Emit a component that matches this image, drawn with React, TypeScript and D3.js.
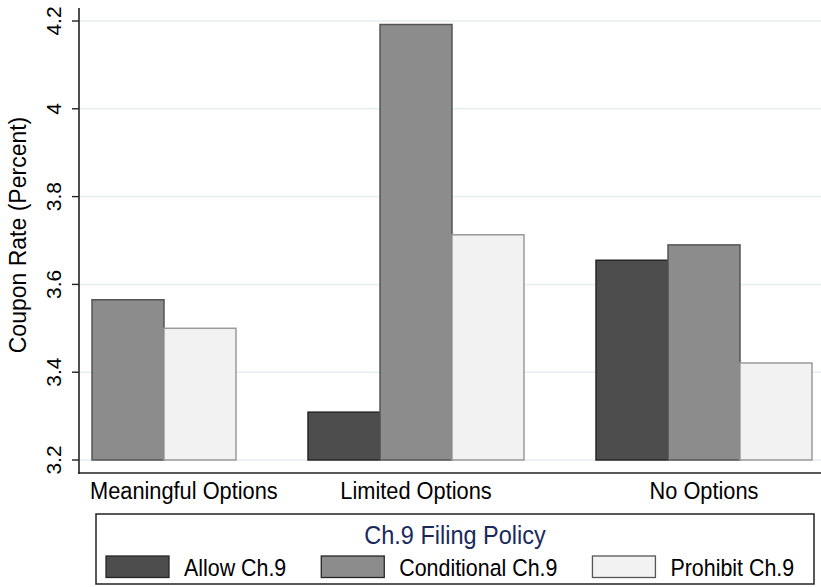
import React, { useEffect, useRef } from "react";
import * as d3 from "d3";

const groups = ["Meaningful Options", "Limited Options", "No Options"];
const seriesNames = ["Allow Ch.9", "Conditional Ch.9", "Prohibit Ch.9"];
const allowValues: (number | null)[] = [null, 3.309, 3.655];
const conditionalValues: (number | null)[] = [3.565, 4.192, 3.69];
const prohibitValues: (number | null)[] = [3.5, 3.713, 3.421];
const yTicks = [3.2, 3.4, 3.6, 3.8, 4.0, 4.2];
const yTitle = "Coupon Rate (Percent)";
const legendTitle = "Ch.9 Filing Policy";

const fills = ["#4d4d4d", "#8c8c8c", "#f2f2f2"];
const strokes = ["#262626", "#555555", "#9a9a9a"];

const W = 821;
const H = 587;
const FONT = "'Liberation Sans', Arial, sans-serif";
const STRETCH = 1.08;

export default function App() {
  const ref = useRef<SVGSVGElement>(null);

  useEffect(() => {
    const svg = d3.select(ref.current!);
    svg.selectAll("*").remove();

    const seriesValues = [allowValues, conditionalValues, prohibitValues];

    const y = d3.scaleLinear().domain([3.2, 4.2]).range([460, 21]);
    const xG = d3.scaleBand<string>().domain(groups).range([20, 812]).paddingInner(0.25).paddingOuter(0);
    const xS = d3.scaleBand<string>().domain(seriesNames).range([0, xG.bandwidth()]).padding(0);

    const axisX = 79;
    const axisBottom = 473;
    const plotTop = 8;

    // gridlines
    svg.append("g")
      .selectAll("line")
      .data(yTicks)
      .join("line")
      .attr("x1", axisX + 1)
      .attr("x2", W)
      .attr("y1", (d) => y(d))
      .attr("y2", (d) => y(d))
      .attr("stroke", "#e6eeef")
      .attr("stroke-width", 1.5);

    // bars
    const bars: { g: string; s: string; v: number; i: number }[] = [];
    groups.forEach((g, gi) => {
      seriesNames.forEach((s, si) => {
        const v = seriesValues[si][gi];
        if (v != null) bars.push({ g, s, v, i: si });
      });
    });
    svg.append("g")
      .selectAll("rect")
      .data(bars)
      .join("rect")
      .attr("x", (d) => (xG(d.g) as number) + (xS(d.s) as number))
      .attr("y", (d) => y(d.v))
      .attr("width", xS.bandwidth())
      .attr("height", (d) => y(3.2) - y(d.v))
      .attr("fill", (d) => fills[d.i])
      .attr("stroke", (d) => strokes[d.i])
      .attr("stroke-width", 1.5);

    // axes lines
    svg.append("line")
      .attr("x1", axisX).attr("x2", axisX)
      .attr("y1", plotTop).attr("y2", axisBottom + 1)
      .attr("stroke", "#222").attr("stroke-width", 1.6);
    svg.append("line")
      .attr("x1", axisX - 1).attr("x2", W)
      .attr("y1", axisBottom).attr("y2", axisBottom)
      .attr("stroke", "#222").attr("stroke-width", 1.6);

    // y ticks
    const yt = svg.append("g");
    yt.selectAll("line")
      .data(yTicks)
      .join("line")
      .attr("x1", axisX - 7).attr("x2", axisX)
      .attr("y1", (d) => y(d)).attr("y2", (d) => y(d))
      .attr("stroke", "#222").attr("stroke-width", 1.4);
    yt.selectAll("text")
      .data(yTicks)
      .join("text")
      .attr("transform", (d) => `translate(53.5,${y(d)}) rotate(-90)`)
      .attr("text-anchor", "middle")
      .attr("dominant-baseline", "central")
      .attr("font-family", FONT)
      .attr("font-size", 21)
      .attr("fill", "#000")
      .text((d) => d3.format("")(d));

    // y title
    svg.append("text")
      .attr("transform", `translate(17.5,235) rotate(-90)`)
      .attr("text-anchor", "middle")
      .attr("dominant-baseline", "central")
      .attr("font-family", FONT)
      .attr("font-size", 23)
      .attr("fill", "#000")
      .text(yTitle);

    // helper for horizontal stretched text
    const hText = (parent: any, x: number, yy: number, str: string, size: number, anchor: string, color: string) => {
      const t = parent.append("text")
        .attr("transform", `translate(${x},${yy}) scale(1,${STRETCH})`)
        .attr("text-anchor", anchor)
        .attr("font-family", FONT)
        .attr("font-size", size)
        .attr("fill", color)
        .text(str);
      return t;
    };

    // x group labels
    const xl = svg.append("g");
    groups.forEach((g) => {
      const t = hText(xl, 0, 499, g, 21.8, "middle", "#000");
      const w = (t.node() as SVGTextElement).getComputedTextLength();
      const c = (xG(g) as number) + xG.bandwidth() / 2;
      t.attr("transform", `translate(${Math.max(c, 90 + w / 2)},499) scale(1,${STRETCH})`);
    });

    // legend
    const lg = svg.append("g");
    const lx0 = 96, lx1 = 814, ly0 = 514, ly1 = 584;
    lg.append("rect")
      .attr("x", lx0).attr("y", ly0)
      .attr("width", lx1 - lx0).attr("height", ly1 - ly0)
      .attr("fill", "#fff").attr("stroke", "#222").attr("stroke-width", 1.5);
    hText(lg, (lx0 + lx1) / 2, 544, legendTitle, 23.5, "middle", "#1a2a5c");
    let cx = 106;
    seriesNames.forEach((s, i) => {
      lg.append("rect")
        .attr("x", cx).attr("y", 556)
        .attr("width", 63).attr("height", 21.5)
        .attr("fill", fills[i]).attr("stroke", strokes[i === 2 ? 1 : 0]).attr("stroke-width", 1.3);
      const t = hText(lg, cx + 78, 576, s, 21.4, "start", "#000");
      const w = (t.node() as SVGTextElement).getComputedTextLength();
      cx = cx + 78 + w + 35;
    });
  }, []);

  return (
    <svg
      ref={ref}
      width={W}
      height={H}
      style={{ position: "absolute", left: 0, top: 0, background: "#fff" }}
    />
  );
}
